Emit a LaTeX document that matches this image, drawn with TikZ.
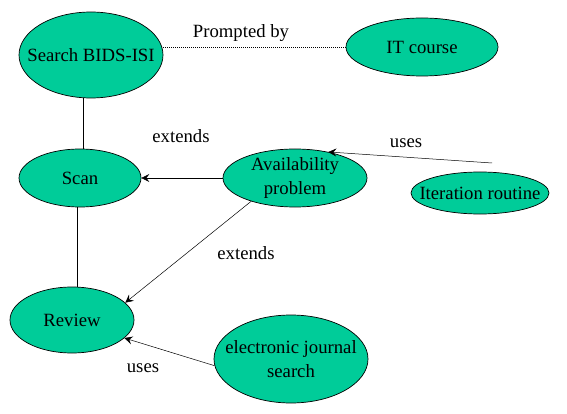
\documentclass[tikz,border=0pt]{standalone}
\usepackage{fontspec}
\setmainfont{Liberation Serif}
\usetikzlibrary{shapes.geometric,arrows.meta}
\definecolor{usecase}{RGB}{0,204,153}

\begin{document}
\begin{tikzpicture}[x = 1pt, y = -1pt,
    every node/.style = { font = \fontsize{18.7}{23.5}\selectfont, align = center, inner sep = 0pt },
    task/.style = { draw, fill = usecase, shape = ellipse, line width = .7pt },
    link/.style = { line width = .8pt },
    uses/.style = { line width = .5pt, -{Stealth[length = 8pt, width = 8pt, inset = 3pt]} }]
  \useasboundingbox (0,0) rectangle (567,414);
  \node [task, minimum width = 144pt, minimum height = 86pt, label = {center:Search BIDS-ISI}] (search) at (91,55) {};
  \node [task, minimum width = 152pt, minimum height = 58pt, label = {center:IT course}] (it) at (422,47) {};
  \node [task, minimum width = 122pt, minimum height = 58pt, label = {center:Scan}] (scan) at (80,178) {};
  \node [task, minimum width = 144pt, minimum height = 58pt, label = {center:Availability\\problem}] (avail) at (295,178) {};
  \node [task, minimum width = 138pt, minimum height = 42pt, label = {center:Iteration routine}] (iter) at (480,193) {};
  \node [task, minimum width = 124pt, minimum height = 66pt, label = {center:Review}] (review) at (72,320) {};
  \node [task, minimum width = 154pt, minimum height = 88pt, label = {center:electronic journal\\search}] (elec) at (291,359) {};
  \coordinate (iterfoot) at (492,163);

  \node (prompted) at (241,33) {Prompted by};
  \node (extends) at (181,136) {extends};
  \node (usesiter) at (406,143) {uses};
  \node (extendsrev) at (246,253) {extends};
  \node (useselec) at (143,368) {uses};

  \draw [link] ([xshift = -8pt]search.south) -- ([xshift = 3pt]scan.north);
  \draw [link] ([xshift = -3pt]scan.south) -- ([xshift = 5pt]review.north);
  \draw [line width = .6pt, dash pattern = on 1pt off 1pt] (it.west -| search.east) -- (it.west);
  \draw [uses] (avail) -- (scan);
  \draw [uses] (avail.208) -- (review.18);
  \draw [uses] (iterfoot) -- (avail.38);
  \draw [uses] (elec.185) -- (review.341);
\end{tikzpicture}
\end{document}
